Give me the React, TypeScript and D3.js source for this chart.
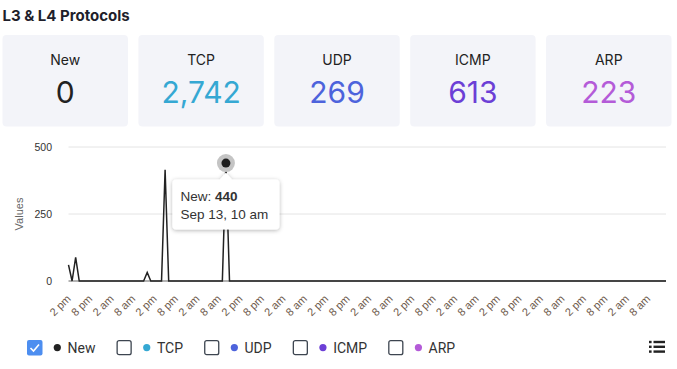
import React from 'react';
import * as d3 from 'd3';

// summary cards
const cardLabels = ['New', 'TCP', 'UDP', 'ICMP', 'ARP'];
const cardTotals = [0, 2742, 269, 613, 223];
const seriesColors = ['#222222', '#35a8d3', '#4d63dc', '#6c3fd6', '#b45bd8'];
const legendChecked = [true, false, false, false, false];

// hourly "New" values, Sep 11 2 pm .. Sep 18 1 pm
const newValues = [
  60, 0, 88, 0, 0, 0, 0, 0, 0, 0, 0, 0, 0, 0, 0, 0, 0, 0, 0, 0, 0, 0, 32, 0,
  0, 0, 0, 415, 0, 0, 0, 0, 0, 0, 0, 0, 0, 0, 0, 0, 0, 0, 0, 0, 440, 0, 0, 0,
  0, 0, 0, 0, 0, 0, 0, 0, 0, 0, 0, 0, 0, 0, 0, 0, 0, 0, 0, 0, 0, 0, 0, 0,
  0, 0, 0, 0, 0, 0, 0, 0, 0, 0, 0, 0, 0, 0, 0, 0, 0, 0, 0, 0, 0, 0, 0, 0,
  0, 0, 0, 0, 0, 0, 0, 0, 0, 0, 0, 0, 0, 0, 0, 0, 0, 0, 0, 0, 0, 0, 0, 0,
  0, 0, 0, 0, 0, 0, 0, 0, 0, 0, 0, 0, 0, 0, 0, 0, 0, 0, 0, 0, 0, 0, 0, 0,
  0, 0, 0, 0, 0, 0, 0, 0, 0, 0, 0, 0, 0, 0, 0, 0, 0, 0, 0, 0, 0, 0, 0, 0,
];
const startTime = new Date(2023, 8, 11, 14);
const yTicks = [0, 250, 500];
const hoverIndex = 44;

function textWidth(txt, font) {
  const c = document.createElement('canvas').getContext('2d');
  c.font = font;
  return c.measureText(txt).width;
}

export default function App() {
  const W = 677, H = 369;
  const margin = {top: 147, right: 11, bottom: 88, left: 68.5};

  const times = newValues.map((v, i) => d3.timeHour.offset(startTime, i));
  const data = newValues.map((v, i) => ({date: times[i], value: v}));

  const x = d3.scaleTime()
    .domain(d3.extent(times))
    .range([margin.left, W - margin.right]);
  const y = d3.scaleLinear()
    .domain([0, 500])
    .range([H - margin.bottom, margin.top]);

  const line = d3.line()
    .x(d => x(d.date))
    .y(d => y(d.value));

  const xTicks = times.filter(d => d.getHours() % 6 === 2);
  const tickFmt = d3.timeFormat('%-I %p');
  const tipFmt = d3.timeFormat('%b %-d, %-I %p');
  const fmt = d3.format(',');

  // cards layout
  const card = d3.scaleBand().domain(cardLabels).range([2.5, 671.5]).paddingInner(0.077);

  // legend layout
  const legendFont = '14px Roboto';
  let lx = 27;
  const legend = cardLabels.map((name, i) => {
    const item = {name, x: lx, color: seriesColors[i], checked: legendChecked[i]};
    lx += 40.5 + textWidth(name, legendFont) + 21;
    return item;
  });

  const hp = data[hoverIndex];
  const hx = x(hp.date), hy = y(hp.value);
  const tipW = 107, tipH = 50;
  const tipX = hx - 53.5, tipY = hy + 16.5;

  return (
    <div style={{position: 'absolute', left: 0, top: 0}}>
      <svg width={W} height={H} style={{display: 'block', fontFamily: 'Inter, sans-serif'}}>
        <defs>
          <filter id="tipShadow" x="-20%" y="-30%" width="140%" height="170%">
            <feDropShadow dx="0" dy="1" stdDeviation="2" floodColor="#000" floodOpacity="0.3" />
          </filter>
        </defs>
        <rect width={W} height={H} fill="#fff" />

        <text x={2.5} y={20.5} fontSize={15} fontWeight={700} fill="#1f1f2b">L3 &amp; L4 Protocols</text>

        {cardLabels.map((name, i) => (
          <g key={name} transform={`translate(${card(name)},35)`}>
            <rect width={card.bandwidth()} height={91.5} rx={4} fill="#f3f4f9" />
            <text x={card.bandwidth() / 2} y={30} textAnchor="middle" fontSize={14} fill="#222">{name}</text>
            <text x={card.bandwidth() / 2} y={68.3} textAnchor="middle" fontSize={30} fill={seriesColors[i]}>{fmt(cardTotals[i])}</text>
          </g>
        ))}

        <g fontFamily="Arial, 'Liberation Sans', sans-serif">
          {yTicks.map(t => (
            <g key={t}>
              <line x1={margin.left} x2={W - margin.right} y1={y(t)} y2={y(t)} stroke={t === 0 ? '#666' : '#e4e4e4'} />
              <text x={52} y={y(t)} dy="0.35em" textAnchor="end" fontSize={10.5} fill="#333">{t}</text>
            </g>
          ))}
          <text transform={`translate(23,${y(250)}) rotate(-90)`} textAnchor="middle" fontSize={11} fill="#666">Values</text>

          {xTicks.map(t => (
            <text key={+t} transform={`translate(${x(t) + 3},299.5) rotate(-45)`} textAnchor="end" fontSize={11} fill="#6e5a4c">
              {tickFmt(t).toLowerCase()}
            </text>
          ))}

          <path d={line(data)} fill="none" stroke="#222" strokeWidth={1.5} strokeLinejoin="miter" />

          <circle cx={hx} cy={hy} r={9} fill="#c4c4c4" />
          <circle cx={hx} cy={hy} r={4.5} fill="#1e1e1e" />

          <g filter="url(#tipShadow)">
            <path
              d={`M${tipX + 4},${tipY} H${hx - 6} L${hx},${tipY - 7} L${hx + 6},${tipY} H${tipX + tipW - 4} Q${tipX + tipW},${tipY} ${tipX + tipW},${tipY + 4} V${tipY + tipH - 4} Q${tipX + tipW},${tipY + tipH} ${tipX + tipW - 4},${tipY + tipH} H${tipX + 4} Q${tipX},${tipY + tipH} ${tipX},${tipY + tipH - 4} V${tipY + 4} Q${tipX},${tipY} ${tipX + 4},${tipY} Z`}
              fill="#fff"
            />
          </g>
          <text x={tipX + 8} y={tipY + 21} fontSize={13.5} fill="#333">
            New: <tspan fontWeight={700}>{hp.value}</tspan>
          </text>
          <text x={tipX + 8} y={tipY + 39} fontSize={13.5} fill="#333">{tipFmt(hp.date).replace('AM', 'am').replace('PM', 'pm')}</text>
        </g>

        <g fontFamily="Roboto, sans-serif">
          {legend.map(d => (
            <g key={d.name} transform={`translate(${d.x},340)`}>
              {d.checked ? (
                <g>
                  <rect width={15.5} height={15.5} rx={2} fill="#4d8ef0" />
                  <path d="M3.5,8 L6.5,11 L12,4.5" fill="none" stroke="#fff" strokeWidth={1.6} />
                </g>
              ) : (
                <rect x={0.7} y={0.7} width={14} height={14} rx={2} fill="#fff" stroke="#3d4550" strokeWidth={1.3} />
              )}
              <circle cx={30.3} cy={7.6} r={3.6} fill={d.color} />
              <text x={40.5} y={7.6} dy="0.36em" fontSize={14} fill="#333">{d.name}</text>
            </g>
          ))}
        </g>

        <g fill="#222">
          {[342, 346.8, 351.6].map(v => (
            <g key={v}>
              <rect x={649} y={v - 1.2} width={2.6} height={2.4} />
              <rect x={653.5} y={v - 1.2} width={11.5} height={2.4} />
            </g>
          ))}
        </g>
      </svg>
    </div>
  );
}
